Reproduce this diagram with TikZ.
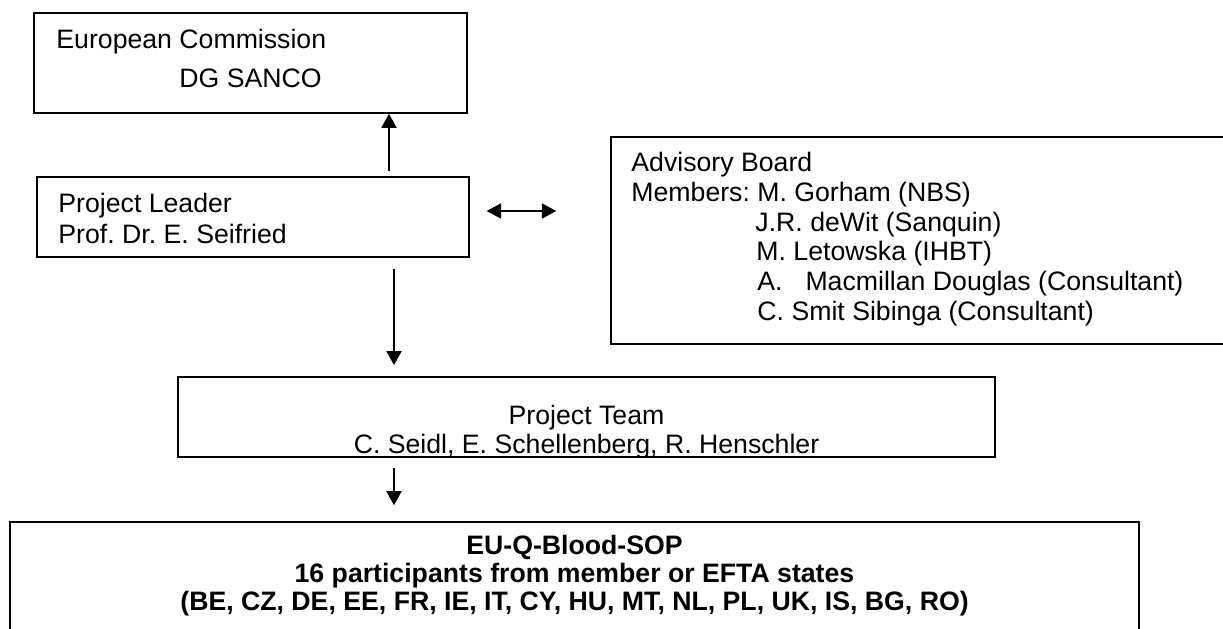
\documentclass[tikz,border=0pt]{standalone}
\usepackage{fontspec}
\setmainfont{Liberation Sans}
\usetikzlibrary{arrows.meta,fit}
\frenchspacing
\begin{document}
\begin{tikzpicture}[x=0.45pt,y=-0.45pt,
  box/.style={draw,line width=0.7pt,inner sep=0pt,rectangle},
  txt/.style={anchor=base west,inner sep=0pt,font=\fontsize{12}{14}\selectfont\frenchspacing},
  ctxt/.style={anchor=base,inner sep=0pt,font=\fontsize{12}{14}\selectfont\frenchspacing},
  btxt/.style={anchor=base,inner sep=0pt,font=\fontsize{12}{14}\selectfont\bfseries\frenchspacing},
  arr/.style={line width=0.6pt,-{Triangle[length=6.3pt,width=6.8pt]}},
  darr/.style={line width=0.6pt,{Triangle[length=6.5pt,width=6.8pt]}-{Triangle[length=6.5pt,width=6.8pt]}}]
\useasboundingbox (0,0) rectangle (1223,629);
\fill[white] (0,0) rectangle (1223,629);
\clip (0,0) rectangle (1223,629);

% boxes
\node[box, fit={(34,13) (467,113)}] (EC) {};
\node[box, fit={(37,177) (469,257)}] (PL) {};
\node[box, fit={(611,137) (1240,344)}] (AB) {};
\node[box, fit={(178,377) (995,457)}] (PT) {};
\node[box, fit={(10,522) (1139,660)}] (EU) {};

% texts
\node[txt] (ec1) at (56,49) {European Commission};
\node[ctxt] (ec2) at (250.5,88) {DG SANCO};
\node[txt] (pl1) at (58,213) {Project Leader};
\node[txt] (pl2) at (58,243) {Prof. Dr. E. Seifried};
\node[txt] (ab1) at (631,172) {Advisory Board};
\node[txt] (ab2) at (631,201.6) {Members: M. Gorham (NBS)};
\node[txt] (ab3) at (755,231.2) {J.R. deWit (Sanquin)};
\node[txt] (ab4) at (756,260.8) {M. Letowska (IHBT)};
\node[txt] (ab5) at (757,290.4) {A.\hspace{10.3pt}Macmillan Douglas (Consultant)};
\node[txt] (ab6) at (757,320) {C. Smit Sibinga (Consultant)};
\begin{scope}
\clip (PT.south west) rectangle (PT.north east);
\node[ctxt] (pt1) at (586.5,424) {Project Team};
\node[ctxt] (pt2) at (586.5,453) {C. Seidl, E. Schellenberg, R. Henschler};
\end{scope}
\node[btxt] (eu1) at (574.5,554) {EU-Q-Blood-SOP};
\node[btxt] (eu2) at (574.5,582) {16 participants from member or EFTA states};
\node[btxt] (eu3) at (574.5,610) {(BE, CZ, DE, EE, FR, IE, IT, CY, HU, MT, NL, PL, UK, IS, BG, RO)};

% connector guides
\coordinate (ux) at (389,0);
\coordinate (dx) at (394,0);
\coordinate (hy) at (0,211);

% connectors
\draw[arr, shorten <=2.25pt] (PL.north -| ux) -- (EC.south -| ux);
\draw[darr, shorten <=7.6pt, shorten >=24.3pt] (PL.east |- hy) -- (AB.west |- hy);
\draw[arr, shorten <=5pt, shorten >=5pt] (PL.south -| dx) -- (PT.north -| dx);
\draw[arr, shorten <=4.5pt, shorten >=7.2pt] (PT.south -| dx) -- (EU.north -| dx);
\end{tikzpicture}
\end{document}
